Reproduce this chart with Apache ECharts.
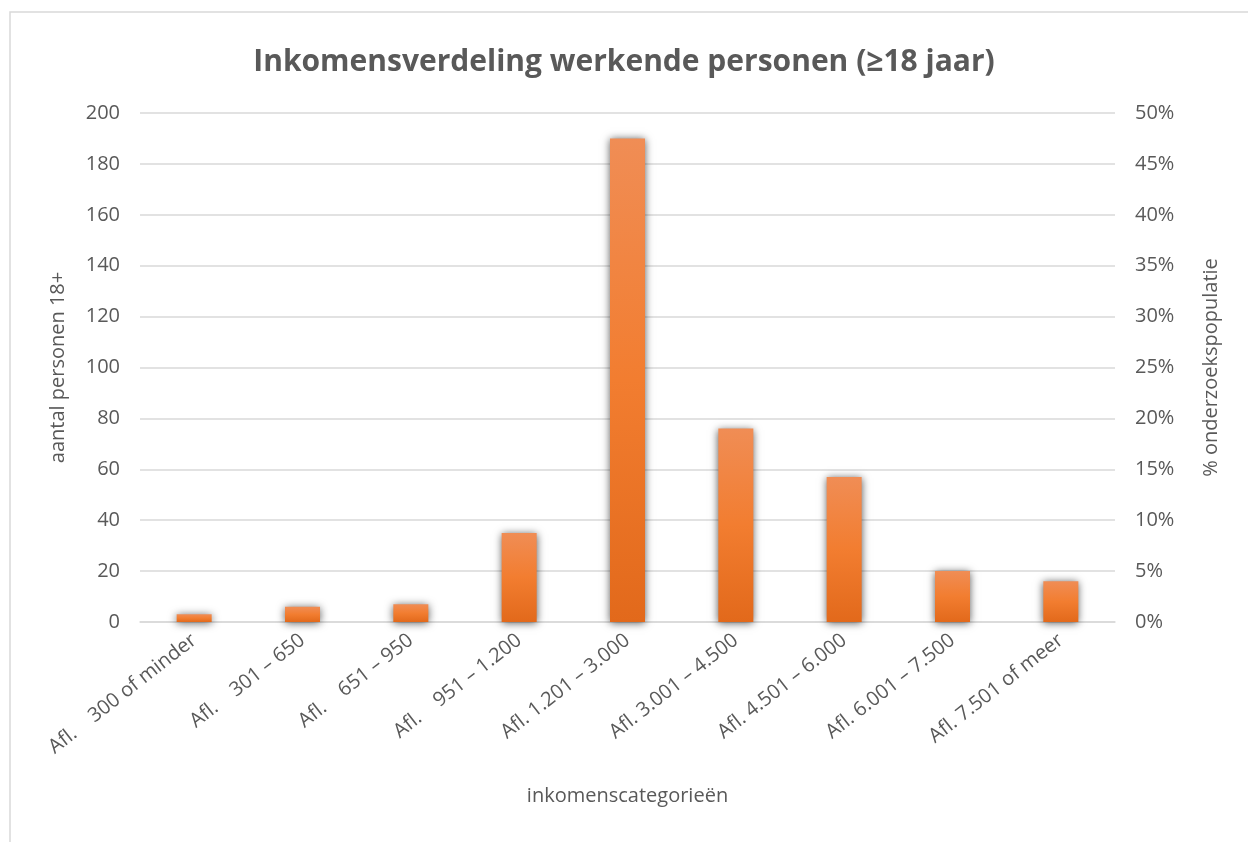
<!DOCTYPE html>
<html>
<head>
<meta charset="utf-8">
<script src="https://cdn.jsdelivr.net/npm/echarts@6/dist/echarts.min.js"></script>
<style>
  html, body { margin: 0; padding: 0; background: #fff; }
  #chart { width: 1248px; height: 842px; }
</style>
</head>
<body>
<div id="chart"></div>
<script>
// Categories (income brackets)
const categories = [
  'Afl.    300 of minder',
  'Afl.    301 – 650',
  'Afl.    651 – 950',
  'Afl.    951 – 1.200',
  'Afl. 1.201 – 3.000',
  'Afl. 3.001 – 4.500',
  'Afl. 4.501 – 6.000',
  'Afl. 6.001 – 7.500',
  'Afl. 7.501 of meer'
];
// Number of working persons (18+) per bracket
const counts = [3, 6, 7, 35, 190, 76, 57, 20, 16];

const textColor = '#595959';
const gridColor = '#D9D9D9';
const font = 'Open Sans';

const chart = echarts.init(document.getElementById('chart'));

chart.setOption({
  backgroundColor: '#fff',
  animation: false,
  textStyle: { fontFamily: font },
  title: {
    text: 'Inkomensverdeling werkende personen (≥18 jaar)',
    left: 'center',
    top: 42,
    textStyle: { fontFamily: font, fontSize: 30, fontWeight: 'bold', color: textColor }
  },
  graphic: [{
    type: 'rect',
    shape: { x: 10, y: 12, width: 1260, height: 860 },
    style: { fill: 'none', stroke: gridColor, lineWidth: 1.5 },
    silent: true
  }],
  grid: { left: 140, right: 133, top: 113, bottom: 220 },
  xAxis: {
    type: 'category',
    data: categories,
    name: 'inkomenscategorieën',
    nameLocation: 'middle',
    nameGap: 164,
    nameTextStyle: { color: textColor, fontSize: 20 },
    axisLine: { lineStyle: { color: gridColor, width: 1.5 } },
    axisTick: { show: false },
    axisLabel: { rotate: 38, color: textColor, fontSize: 20, margin: 16, interval: 0 }
  },
  yAxis: [{
    type: 'value',
    min: 0,
    max: 200,
    interval: 20,
    name: 'aantal personen 18+',
    nameLocation: 'middle',
    nameGap: 72,
    nameRotate: 90,
    nameTextStyle: { color: textColor, fontSize: 20 },
    axisLine: { show: false },
    axisTick: { show: false },
    axisLabel: { color: textColor, fontSize: 20, margin: 20 },
    splitLine: { lineStyle: { color: gridColor, width: 1.5 } }
  }, {
    type: 'value',
    min: 0,
    max: 0.5,
    interval: 0.05,
    name: '% onderzoekspopulatie',
    nameLocation: 'middle',
    nameGap: 86,
    nameRotate: 90,
    nameTextStyle: { color: textColor, fontSize: 20 },
    axisLine: { show: false },
    axisTick: { show: false },
    axisLabel: {
      color: textColor, fontSize: 20, margin: 20,
      formatter: function (v) { return Math.round(v * 100) + '%'; }
    },
    splitLine: { show: false }
  }],
  series: [{
    type: 'bar',
    yAxisIndex: 0,
    data: counts,
    barWidth: 35,
    itemStyle: {
      color: new echarts.graphic.LinearGradient(0, 0, 0, 1, [
        { offset: 0, color: '#F08D55' },
        { offset: 0.5, color: '#F27D30' },
        { offset: 1, color: '#E2691B' }
      ]),
      shadowColor: 'rgba(0,0,0,0.65)',
      shadowBlur: 8,
      shadowOffsetX: 0,
      shadowOffsetY: 1
    }
  }]
});
</script>
</body>
</html>
